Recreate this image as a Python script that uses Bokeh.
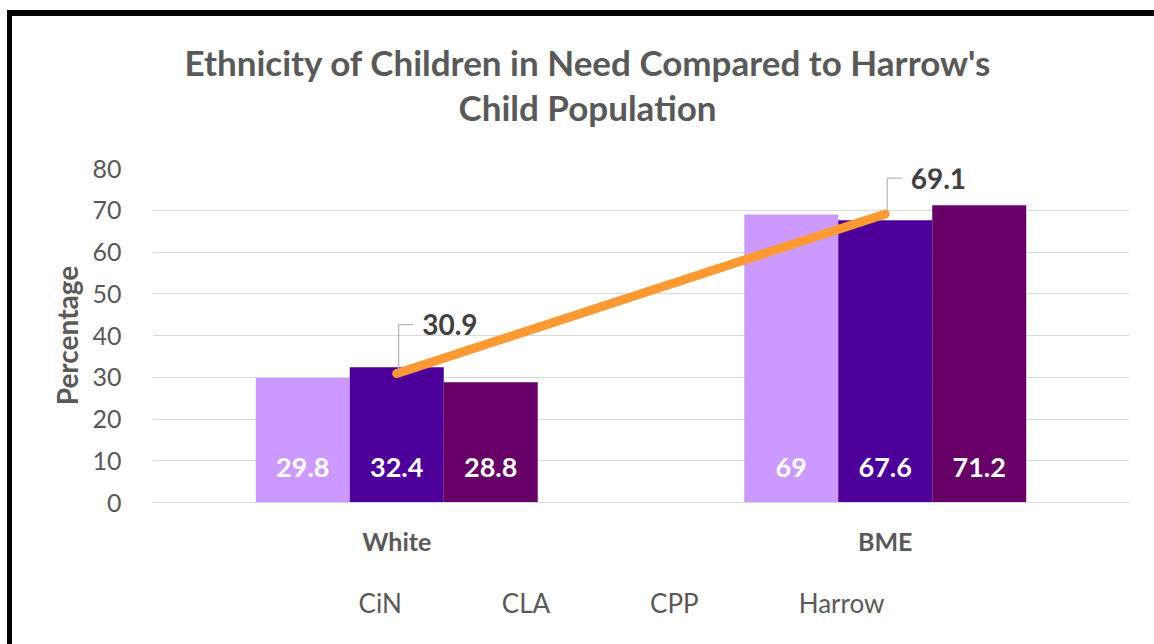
from bokeh.plotting import figure
from bokeh.layouts import column
from bokeh.models import (ColumnDataSource, Range1d, FixedTicker, Legend, LegendItem, Title,
                          CDSView, IndexFilter)
from bokeh.core.properties import value
from bokeh.embed import file_html
from bokeh.resources import INLINE

# ---- data ----
categories = ["White", "BME"]
series_names = ["CiN", "CLA", "CPP"]
cin = [29.8, 69.0]
cla = [32.4, 67.6]
cpp = [28.8, 71.2]
harrow = [30.9, 69.1]
y_ticks = [0, 10, 20, 30, 40, 50, 60, 70, 80]
title_lines = ["Ethnicity of Children in Need Compared to Harrow's", "Child Population"]
y_title = "Percentage"

# ---- styles ----
colors = ["#CC99FF", "#4D0099", "#660066"]
harrow_color = "#FF9933"
FONT = "Lato"
GRAY = "#595959"
bar_w = 0.1924
offsets = [-bar_w, 0.0, bar_w]
label_lift = [11.7, 8.6]

def fmt(v):
    return ("%g" % v)

xc = [i + 0.5 for i in range(len(categories))]
series_vals = [cin, cla, cpp]

p = figure(frame_width=977, frame_height=334, output_backend="svg", toolbar_location=None,
           x_range=Range1d(0, len(categories)), y_range=Range1d(0, 80),
           min_border_left=140, min_border_right=25, min_border_top=152,
           min_border_bottom=60)
p.outline_line_color = None
p.background_fill_color = "white"
p.border_fill_color = "white"

# titles (closest to the frame first)
spacer = Title(text=" ", text_font_size="1px", standoff=36)
t2 = Title(text=title_lines[1], align="left", text_font=FONT, text_font_size="35px",
           text_font_style="bold", text_color=GRAY, standoff=3, offset=306)
t1 = Title(text=title_lines[0], align="left", text_font=FONT, text_font_size="35px",
           text_font_style="bold", text_color=GRAY, standoff=0, offset=32)
p.add_layout(spacer, "above")
p.add_layout(t2, "above")
p.add_layout(t1, "above")

# axes
p.yaxis.ticker = FixedTicker(ticks=y_ticks)
p.yaxis.axis_line_color = None
p.yaxis.major_tick_line_color = None
p.yaxis.minor_tick_line_color = None
p.yaxis.major_label_text_font = FONT
p.yaxis.major_label_text_font_size = "25px"
p.yaxis.major_label_text_color = GRAY
p.yaxis.major_label_standoff = 25
p.yaxis.axis_label = y_title
p.yaxis.axis_label_text_font = FONT
p.yaxis.axis_label_text_font_size = "28px"
p.yaxis.axis_label_text_font_style = "bold"
p.yaxis.axis_label_text_color = GRAY
p.yaxis.axis_label_standoff = 5

p.xaxis.ticker = FixedTicker(ticks=xc)
p.xaxis.major_label_overrides = {x: c for x, c in zip(xc, categories)}
p.xaxis.axis_line_color = "#D9D9D9"
p.xaxis.major_tick_line_color = None
p.xaxis.minor_tick_line_color = None
p.xaxis.major_label_text_font = FONT
p.xaxis.major_label_text_font_size = "25px"
p.xaxis.major_label_text_font_style = "bold"
p.xaxis.major_label_text_color = GRAY
p.xaxis.major_label_standoff = 17

p.xgrid.grid_line_color = None
p.ygrid.grid_line_color = "#D9D9D9"
p.ygrid.grid_line_width = 1

# bars
bar_sources = []
for name, vals, col, off in zip(series_names, series_vals, colors, offsets):
    src = ColumnDataSource(dict(x=[x + off for x in xc], top=vals,
                                lbl=[fmt(v) for v in vals]))
    bar_sources.append(src)
    p.vbar(x="x", top="top", width=bar_w, bottom=0, source=src,
           fill_color=col, line_color=None)
    p.text(x="x", y=0, text="lbl", source=src, text_align="center",
           text_baseline="middle", y_offset=-35, text_color="white",
           text_font=value(FONT), text_font_size="27px", text_font_style="bold")

# Harrow line
hsrc = ColumnDataSource(dict(x=xc, y=harrow, lbl=[fmt(v) for v in harrow],
                             lx=[x + 0.052 for x in xc],
                             ly=[v + d for v, d in zip(harrow, label_lift)]))
p.line(x="x", y="y", source=hsrc, line_color=harrow_color, line_width=9,
       line_cap="round", line_join="round")

# leader lines + labels
lead_xs, lead_ys = [], []
for x, v, d in zip(xc, harrow, label_lift):
    lead_xs.append([x + 0.004, x + 0.004, x + 0.034])
    lead_ys.append([v, v + d, v + d])
p.multi_line(xs=lead_xs, ys=lead_ys, line_color="#A6A6A6", line_width=1)
p.text(x="lx", y="ly", text="lbl", source=hsrc,
       text_align="left", text_baseline="middle", text_color="#404040",
       text_font=value(FONT), text_font_size="28px", text_font_style="bold")

# legend strip: a second figure; its renderers show no data (empty view)
lg = figure(width=1142, height=82, output_backend="svg", toolbar_location=None,
            x_range=Range1d(0, len(categories)), y_range=Range1d(0, 80),
            x_axis_type=None, y_axis_type=None, min_border=0)
lg.outline_line_color = None
lg.background_fill_color = "white"
lg.border_fill_color = "white"
items = []
for name, src, col in zip(series_names, bar_sources, colors):
    r = lg.vbar(x="x", top="top", width=bar_w, bottom=0, source=src,
                view=CDSView(filter=IndexFilter([])),
                fill_color=col, line_color=None)
    items.append(LegendItem(label=name, renderers=[r]))
rh = lg.line(x="x", y="y", source=hsrc, view=CDSView(filter=IndexFilter([])),
             line_color=harrow_color, line_width=9,
             line_cap="round", line_join="round")
items.append(LegendItem(label="Harrow", renderers=[rh]))
legend = Legend(items=items, orientation="horizontal", location="center",
                title=" ", title_location="right", title_text_font_size="1px",
                title_standoff=112,
                glyph_width=72, glyph_height=18, label_standoff=3, spacing=25,
                padding=0, margin=0, border_line_color=None, background_fill_alpha=0,
                label_text_font=FONT, label_text_font_size="26px", label_text_color=GRAY)
lg.add_layout(legend, "center")

layout = column(p, lg, spacing=0)
layout.styles = {"margin-left": "12px", "margin-top": "16px",
                 "box-shadow": "5px 4px 0px 10px #000000"}

open("out.html", "w").write(file_html(layout, INLINE))
